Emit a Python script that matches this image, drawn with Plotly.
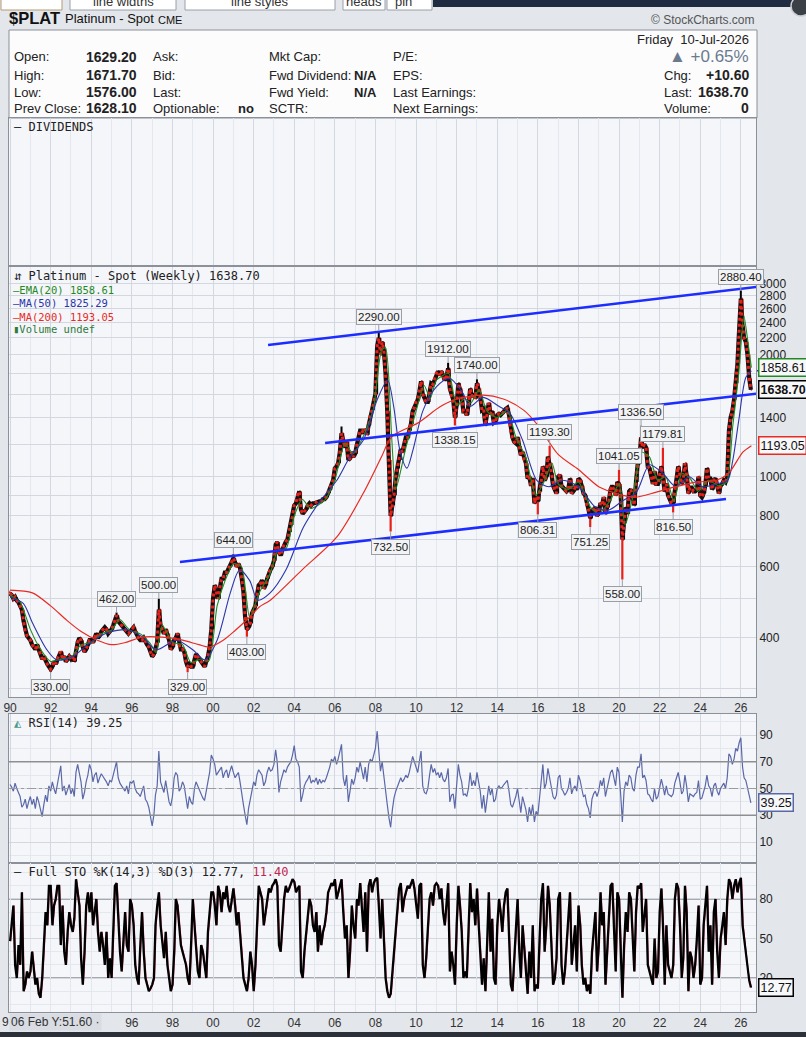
import math
import pandas as pd
import plotly.graph_objects as go

W, H = 806, 1037


def px(x):
    return x / W


def py(y):
    return 1 - y / H


def yr(t):
    # decimal year -> timestamp
    return pd.Timestamp("1990-01-01") + pd.Timedelta(days=(t - 1990) * 365.25)


#### Data (monthly closes) ####
closes_90s = [
    515, 510, 500, 505, 495, 490, 480, 470, 440, 415, 405, 400,   # 1990
    395, 385, 380, 375, 385, 375, 365, 355, 360, 350, 345, 340,   # 1991
    335, 340, 350, 345, 355, 365, 370, 355, 360, 350, 355, 360,   # 1992
    355, 360, 350, 375, 390, 400, 395, 380, 370, 375, 385, 395,   # 1993
    395, 390, 400, 410, 400, 405, 415, 420, 425, 420, 410, 415,   # 1994
    420, 430, 445, 455, 440, 435, 430, 425, 420, 415, 410, 415,   # 1995
    420, 425, 415, 405, 400, 395, 395, 400, 390, 385, 380, 370,   # 1996
    360, 365, 375, 390, 470, 430, 420, 410, 420, 410, 395, 375,   # 1997
    380, 395, 400, 410, 385, 375, 375, 370, 350, 340, 345, 340,   # 1998
    340, 355, 365, 360, 355, 350, 345, 340, 350, 360, 380, 420,   # 1999
]
closes_00s = [
    500, 540, 520, 500, 530, 560, 560, 580, 580, 590, 600, 615,   # 2000
    630, 615, 600, 610, 595, 560, 520, 450, 420, 425, 435, 460,   # 2001
    470, 480, 510, 540, 545, 555, 530, 540, 560, 580, 590, 600,   # 2002
    620, 680, 690, 650, 640, 660, 680, 690, 700, 730, 760, 800,   # 2003
    850, 860, 900, 920, 830, 810, 820, 830, 850, 860, 850, 860,   # 2004
    860, 865, 870, 870, 870, 880, 880, 890, 910, 930, 960, 980,   # 2005
    1050, 1060, 1080, 1150, 1280, 1220, 1180, 1220, 1100, 1110, 1150, 1120,   # 2006
    1140, 1200, 1240, 1300, 1300, 1280, 1310, 1270, 1340, 1420, 1460, 1530,   # 2007
    1600, 2100, 2200, 2000, 2150, 2050, 1800, 1450, 1100, 800, 850, 900,      # 2008
    1000, 1050, 1100, 1170, 1150, 1200, 1250, 1250, 1300, 1350, 1450, 1480,   # 2009
]
closes_10s = [
    1530, 1550, 1620, 1720, 1600, 1550, 1530, 1530, 1620, 1700, 1690, 1740,   # 2010
    1800, 1820, 1780, 1820, 1780, 1730, 1760, 1850, 1650, 1580, 1550, 1400,   # 2011
    1500, 1700, 1650, 1580, 1450, 1450, 1420, 1500, 1650, 1580, 1600, 1560,   # 2012
    1700, 1650, 1580, 1460, 1470, 1340, 1420, 1520, 1430, 1450, 1360, 1370,   # 2013
    1420, 1430, 1420, 1430, 1450, 1470, 1480, 1420, 1300, 1250, 1220, 1210,   # 2014
    1250, 1190, 1130, 1150, 1100, 1080, 990, 1000, 950, 990, 860, 890,        # 2015
    870, 920, 970, 1060, 980, 1000, 1120, 1080, 1020, 950, 920, 910,          # 2016
    1000, 1010, 950, 940, 930, 920, 930, 990, 910, 920, 940, 930,             # 2017
    990, 980, 950, 910, 900, 850, 830, 790, 820, 830, 840, 800,               # 2018
    820, 860, 850, 890, 810, 840, 870, 930, 950, 930, 900, 970,               # 2019
]
closes_20s = [
    960, 900, 700, 770, 840, 810, 920, 930, 880, 850, 970, 1070,              # 2020
    1100, 1250, 1180, 1200, 1180, 1060, 1050, 1000, 960, 1030, 960, 960,      # 2021
    1010, 1060, 1000, 920, 960, 900, 880, 860, 860, 930, 1000, 1060,          # 2022
    1010, 960, 980, 1080, 1010, 910, 940, 940, 920, 920, 930, 1000,           # 2023
    900, 890, 910, 950, 1050, 990, 990, 930, 980, 990, 950, 910,              # 2024
    950, 960, 980, 970, 1000, 1300, 1400, 1450, 1550, 1700, 1900, 2300,       # 2025
    2750, 2350, 2200, 2150, 2000, 1750, 1638.70,                              # 2026
]
first_open = 520

# labelled extremes (month, value, H=high / L=low)
spike_dates = ["1992-01", "1995-04", "1997-05", "1998-10", "2001-01", "2001-09",
               "2006-05", "2008-03", "2008-10", "2011-08", "2011-12", "2013-01",
               "2016-01", "2016-08", "2018-08", "2020-01", "2020-03", "2021-02",
               "2022-03", "2022-09", "2026-01"]
spike_values = [330.00, 462.00, 500.00, 329.00, 644.00, 403.00,
                1330.00, 2290.00, 732.50, 1912.00, 1338.15, 1740.00,
                806.31, 1193.30, 751.25, 1041.05, 558.00, 1336.50,
                1179.81, 816.50, 2880.40]
spike_side = ["L", "H", "H", "L", "H", "L",
              "H", "H", "L", "H", "L", "H",
              "L", "H", "L", "H", "L", "H",
              "H", "L", "H"]
spike_labelled = [True, True, True, True, True, True,
                  False, True, True, True, True, True,
                  True, True, True, True, True, True,
                  True, True, True]

# overlays (decimal year, value)
ema_t = [1990.0, 1990.5, 1991.0, 1991.5, 1992.0, 1992.5, 1993.0, 1993.5, 1994.0, 1994.5,
         1995.0, 1995.4, 1995.9, 1996.4, 1996.9, 1997.2, 1997.5, 1998.0, 1998.5, 1998.9,
         1999.4, 1999.8, 2000.2, 2000.6, 2001.0, 2001.4, 2001.8, 2002.3, 2002.8, 2003.2,
         2003.6, 2004.0, 2004.4, 2004.8, 2005.5, 2006.0, 2006.5, 2006.9, 2007.5, 2007.9,
         2008.3, 2008.5, 2008.8, 2009.0, 2009.5, 2010.0, 2010.4, 2010.7, 2011.0, 2011.6,
         2012.0, 2012.4, 2012.7, 2013.1, 2013.5, 2014.0, 2014.5, 2014.9, 2015.4, 2015.9,
         2016.3, 2016.7, 2017.0, 2017.5, 2018.0, 2018.6, 2019.0, 2019.6, 2020.0, 2020.3,
         2020.7, 2021.1, 2021.5, 2021.9, 2022.3, 2022.7, 2023.1, 2023.5, 2023.9, 2024.4,
         2024.9, 2025.3, 2025.6, 2025.9, 2026.15, 2026.35, 2026.52]
ema_v = [510, 490, 420, 375, 350, 355, 358, 385, 390, 410,
         418, 445, 418, 410, 388, 368, 430, 390, 385, 348,
         355, 352, 480, 555, 610, 600, 450, 520, 575, 660,
         665, 800, 880, 835, 875, 980, 1210, 1140, 1290, 1470,
         2050, 2080, 1250, 930, 1180, 1450, 1680, 1560, 1730, 1800,
         1500, 1560, 1520, 1640, 1450, 1400, 1460, 1260, 1120, 900,
         970, 1080, 960, 930, 970, 840, 810, 880, 960, 760,
         900, 1150, 1120, 980, 1000, 870, 1020, 990, 920, 980,
         950, 970, 1330, 1800, 2500, 2150, 1858.61]

ma50_t = [1990.0, 1990.65, 1991.1, 1991.8, 1992.3, 1993.1, 1993.9, 1994.8, 1995.75, 1996.5,
          1997.2, 1998.2, 1999.0, 1999.6, 2000.2, 2000.85, 2001.3, 2001.8, 2002.2, 2002.8,
          2003.6, 2004.45, 2005.3, 2006.1, 2006.75, 2007.4, 2008.1, 2008.6, 2008.9, 2009.2,
          2009.55, 2009.85, 2010.35, 2011.0, 2011.65, 2012.3, 2012.65, 2013.3, 2014.1, 2014.6,
          2015.25, 2015.95, 2016.55, 2017.2, 2018.0, 2018.85, 2019.5, 2020.2, 2020.85, 2021.5,
          2022.15, 2022.8, 2023.45, 2024.1, 2024.8, 2025.35, 2025.6, 2025.9, 2026.25, 2026.52]
ma50_v = [505, 487, 436, 375, 353, 360, 388, 412, 419, 403,
          374, 395, 374, 353, 395, 517, 588, 555, 496, 516,
          590, 750, 874, 980, 1120, 1230, 1555, 1730, 1490, 1165,
          1050, 1165, 1460, 1666, 1750, 1610, 1490, 1570, 1490, 1440,
          1230, 980, 945, 980, 945, 840, 828, 874, 915, 1070,
          1020, 945, 1000, 945, 960, 980, 1095, 1380, 1760, 1825.29]

ma200_t = [1990.0, 1991.1, 1992.0, 1992.8, 1993.5, 1994.3, 1995.0, 1995.7, 1996.5, 1997.5,
           1998.5, 1999.3, 1999.8, 2000.5, 2001.1, 2001.8, 2002.3, 2002.8, 2004.4, 2006.1,
           2007.4, 2008.3, 2008.8, 2010.1, 2011.2, 2012.0, 2013.3, 2014.3, 2015.3, 2016.0,
           2017.0, 2018.0, 2019.0, 2019.7, 2020.2, 2020.8, 2021.8, 2022.8, 2023.8, 2024.8,
           2025.4, 2026.1, 2026.52]
ma200_v = [525, 517, 480, 442, 415, 395, 385, 390, 402, 402,
           395, 385, 380, 395, 418, 450, 478, 495, 590, 710,
           910, 1120, 1255, 1358, 1490, 1555, 1590, 1555, 1460, 1340,
           1135, 1042, 945, 915, 900, 890, 915, 945, 970, 980,
           1020, 1150, 1193.05]

# blue trendlines (start, end)
trend_t = [(2002.71, 2029.21), (2005.52, 2029.21), (1998.37, 2025.27)]
trend_v = [(2114, 3040), (1211, 1656), (616, 881)]

rsi_90s = [
    53, 51, 48, 54, 50, 47, 44, 36, 38, 42, 35, 40,
    44, 38, 42, 35, 44, 40, 34, 29, 38, 45, 40, 52,
    48, 55, 50, 46, 53, 60, 67, 48, 52, 45, 50, 53,
    46, 50, 44, 62, 68, 60, 55, 42, 47, 55, 60, 68,
    64, 55, 60, 62, 54, 58, 61, 59, 57, 55, 52, 56,
    55, 60, 66, 70, 58, 54, 52, 50, 48, 52, 46, 55,
    54, 56, 50, 47, 46, 44, 48, 52, 42, 40, 36, 30,
    22, 30, 45, 52, 78, 55, 50, 47, 56, 48, 40, 37,
    44, 58, 62, 60, 48, 50, 55, 52, 42, 35, 44, 40,
    38, 50, 55, 52, 48, 46, 43, 41, 50, 55, 62, 75,
]
rsi_00s = [
    72, 68, 60, 62, 64, 66, 58, 62, 64, 58, 63, 67,
    62, 58, 60, 62, 55, 45, 38, 30, 23, 35, 42, 48,
    55, 52, 60, 64, 62, 60, 52, 55, 62, 66, 63, 64,
    68, 79, 70, 47, 55, 60, 64, 62, 66, 68, 70, 75,
    82, 72, 70, 66, 40, 45, 52, 55, 57, 60, 54, 56,
    55, 58, 53, 57, 54, 56, 55, 58, 62, 66, 72, 70,
    74, 68, 72, 78, 83, 58, 52, 60, 40, 48, 57, 53,
    58, 66, 62, 70, 64, 57, 66, 55, 68, 72, 70, 75,
    80, 93, 78, 63, 70, 58, 48, 38, 28, 21, 34, 43,
    48, 52, 55, 58, 55, 57, 60, 58, 62, 68, 74, 70,
]
rsi_10s = [
    66, 62, 70, 78, 52, 47, 46, 50, 60, 68, 62, 65,
    60, 62, 58, 62, 57, 55, 58, 65, 40, 45, 46, 35,
    52, 68, 60, 55, 45, 46, 44, 50, 62, 52, 56, 52,
    62, 55, 48, 35, 45, 32, 44, 52, 45, 50, 40, 42,
    50, 52, 50, 51, 53, 55, 56, 48, 38, 36, 40, 44,
    50, 40, 32, 44, 38, 34, 25, 36, 30, 38, 25, 33,
    30, 45, 55, 68, 50, 54, 65, 58, 52, 44, 42, 45,
    58, 60, 50, 48, 45, 47, 50, 58, 46, 50, 52, 48,
    60, 56, 50, 44, 45, 38, 35, 28, 42, 46, 48, 44,
    48, 56, 52, 58, 44, 50, 56, 62, 64, 58, 52, 66,
]
rsi_20s = [
    62, 45, 25, 48, 55, 52, 60, 58, 50, 48, 60, 66,
    66, 76, 58, 60, 56, 46, 45, 42, 40, 50, 42, 44,
    52, 57, 52, 45, 52, 46, 45, 44, 46, 54, 58, 62,
    55, 46, 48, 60, 52, 40, 46, 45, 44, 46, 47, 56,
    42, 43, 48, 52, 60, 52, 50, 44, 52, 54, 48, 45,
    50, 52, 54, 50, 58, 76, 74, 68, 72, 80, 78, 84,
    88, 66, 58, 56, 50, 44, 39.25,
]

sto_90s = [
    48, 65, 75, 30, 20, 45, 30, 85, 10, 15, 25, 20,
    25, 40, 30, 15, 20, 8, 5, 20, 45, 70, 60, 90,
    90, 60, 75, 80, 90, 90, 45, 75, 40, 30, 55, 70,
    60, 55, 65, 95, 85, 75, 35, 15, 40, 75, 85, 70,
    85, 60, 70, 80, 55, 40, 55, 45, 30, 55, 20, 35,
    20, 55, 90, 92, 60, 40, 25, 50, 70, 45, 40, 80,
    75, 60, 30, 20, 15, 45, 70, 40, 20, 15, 10, 12,
    15, 20, 60, 75, 85, 60, 45, 35, 55, 30, 20, 10,
    15, 40, 80, 75, 60, 45, 40, 35, 30, 20, 15, 45,
    80, 60, 45, 25, 20, 45, 40, 30, 20, 55, 70, 85,
]
sto_00s = [
    85, 75, 60, 90, 85, 70, 85, 80, 90, 75, 70, 80,
    88, 75, 60, 70, 55, 40, 20, 15, 10, 20, 40, 30,
    10, 30, 60, 90, 85, 80, 60, 70, 80, 88, 85, 90,
    92, 95, 90, 45, 40, 60, 80, 90, 85, 88, 92, 95,
    93, 85, 88, 90, 25, 20, 40, 55, 70, 80, 75, 60,
    55, 70, 40, 60, 45, 55, 60, 70, 85, 88, 92, 90,
    95, 80, 85, 90, 95, 70, 50, 60, 20, 40, 75, 60,
    50, 80, 75, 92, 70, 55, 85, 40, 90, 95, 85, 92,
    95, 96, 75, 50, 80, 55, 20, 10, 5, 8, 25, 40,
    60, 75, 88, 92, 70, 80, 85, 90, 88, 92, 95, 88,
]
sto_10s = [
    75, 65, 90, 92, 30, 20, 35, 60, 80, 85, 75, 90,
    92, 90, 80, 88, 70, 60, 75, 92, 25, 40, 30, 15,
    60, 90, 75, 55, 20, 25, 20, 55, 92, 70, 80, 60,
    88, 60, 40, 15, 35, 10, 45, 85, 40, 65, 20, 15,
    60, 80, 70, 55, 75, 85, 88, 55, 15, 10, 35, 50,
    80, 40, 20, 60, 40, 20, 8, 40, 20, 60, 10, 15,
    12, 50, 80, 92, 40, 60, 90, 75, 40, 15, 20, 35,
    80, 85, 30, 15, 25, 50, 65, 85, 30, 45, 60, 25,
    75, 60, 30, 15, 20, 10, 15, 8, 40, 55, 70, 25,
    45, 85, 60, 70, 15, 40, 70, 90, 92, 60, 25, 85,
]
sto_20s = [
    80, 40, 5, 45, 70, 55, 85, 80, 45, 25, 70, 90,
    88, 92, 55, 70, 80, 30, 25, 20, 15, 50, 20, 25,
    70, 88, 60, 15, 60, 30, 25, 20, 30, 80, 92, 88,
    60, 20, 35, 90, 70, 10, 40, 35, 20, 30, 50, 75,
    15, 20, 60, 75, 90, 40, 60, 15, 70, 80, 40, 20,
    50, 60, 70, 45, 80, 95, 92, 80, 90, 95, 85, 92,
    96, 60, 50, 35, 25, 18, 12.77,
]

#### Data preparation ####
closes = closes_90s + closes_00s + closes_10s + closes_20s
rsi = rsi_90s + rsi_00s + rsi_10s + rsi_20s
sto_k = sto_90s + sto_00s + sto_10s + sto_20s
months = pd.date_range("1990-01-01", periods=len(closes), freq="MS")

opens = [first_open] + closes[:-1]
highs = [max(o, c) for o, c in zip(opens, closes)]
lows = [min(o, c) for o, c in zip(opens, closes)]
for d, v, s in zip(spike_dates, spike_values, spike_side):
    i = months.get_loc(pd.Timestamp(d + "-01"))
    if s == "H":
        highs[i] = max(highs[i], v)
    else:
        lows[i] = min(lows[i], v)

#### Colours / fonts ####
PAGE = "#e3e6eb"
PLOT = "#f5f6fa"
BORDER = "#8b9099"
GRID = "#d3d7df"
GRID_MINOR = "#e4e7ee"
SANS = "Liberation Sans, Arial, sans-serif"
MONO = "DejaVu Sans Mono, monospace"
C_EMA = "#1f8a1f"
C_MA50 = "#2b35a8"
C_MA200 = "#e82a22"
C_RSI = "#5a68a8"
C_TREND = "#1d2dff"
C_DOWN = "#e8201a"

fig = go.Figure()

# dividends panel (empty)
fig.add_trace(go.Scatter(x=[months[0]], y=[0.5], mode="markers", marker=dict(opacity=0),
                         xaxis="x4", yaxis="y4", hoverinfo="skip", showlegend=False))

# price: heavy close line (black with red speckle) under the black/red bars gives the dense weekly-bar band
fig.add_trace(go.Scatter(x=months, y=closes, mode="lines", line=dict(color="#111", width=4.2),
                         xaxis="x", yaxis="y", hoverinfo="skip", showlegend=False))
fig.add_trace(go.Scatter(x=months, y=closes, mode="lines", line=dict(color=C_DOWN, width=3, dash="3px,3px"),
                         xaxis="x", yaxis="y", hoverinfo="skip", showlegend=False))
fig.add_trace(go.Ohlc(x=months, open=opens, high=highs, low=lows, close=closes,
                      increasing=dict(line=dict(color="black", width=2)),
                      decreasing=dict(line=dict(color=C_DOWN, width=2.2)),
                      tickwidth=0.45, xaxis="x", yaxis="y", showlegend=False))

fig.add_trace(go.Scatter(x=[yr(t) for t in ema_t], y=ema_v, mode="lines", line=dict(color=C_EMA, width=1.1, shape="spline", smoothing=0.6),
                         xaxis="x", yaxis="y", showlegend=False))
fig.add_trace(go.Scatter(x=[yr(t) for t in ma50_t], y=ma50_v, mode="lines", line=dict(color=C_MA50, width=1.1, shape="spline", smoothing=0.8),
                         xaxis="x", yaxis="y", showlegend=False))
fig.add_trace(go.Scatter(x=[yr(t) for t in ma200_t], y=ma200_v, mode="lines", line=dict(color=C_MA200, width=1.2, shape="spline", smoothing=0.8),
                         xaxis="x", yaxis="y", showlegend=False))

for (t0, t1), (v0, v1) in zip(trend_t, trend_v):
    fig.add_trace(go.Scatter(x=[yr(t0), yr(t1)], y=[v0, v1], mode="lines", line=dict(color=C_TREND, width=2.6),
                             xaxis="x", yaxis="y", showlegend=False))

# RSI
fig.add_trace(go.Scatter(x=months, y=rsi, mode="lines", line=dict(color=C_RSI, width=1.2),
                         xaxis="x2", yaxis="y2", showlegend=False))

# Full STO: %D drawn as the lagged %K, under the %K line
fig.add_trace(go.Scatter(x=months + pd.Timedelta(days=12), y=sto_k, mode="lines", line=dict(color="#b3204d", width=1.2),
                         xaxis="x3", yaxis="y3", showlegend=False))
fig.add_trace(go.Scatter(x=months, y=sto_k, mode="lines", line=dict(color="black", width=2.2),
                         xaxis="x3", yaxis="y3", showlegend=False))

#### Axes ####
x_dom = [px(9), px(756)]
x_range = ["1989-12-13", "2026-10-01"]
xcommon = dict(type="date", domain=x_dom, range=x_range, tick0="1990-01-01", dtick="M24", tickformat="%y",
               showgrid=True, gridcolor=GRID, gridwidth=1,
               minor=dict(dtick="M12", showgrid=True, gridcolor=GRID_MINOR),
               showline=True, linecolor=BORDER, linewidth=1, mirror=True, ticks="",
               tickfont=dict(family=SANS, size=12, color="#333"), automargin=False,
               rangeslider=dict(visible=False), fixedrange=True)

# bottom axis: the first labels sit under the crosshair read-out
bottom_years = list(range(1996, 2027, 2))
bottom_ticks = [pd.Timestamp("%d-01-01" % y) for y in bottom_years]
bottom_text = ["%02d" % (y % 100) for y in bottom_years]

price_ticks = [300, 400, 500, 600, 700, 800, 900, 1000, 1200, 1400, 1600, 1800, 2000, 2200, 2400, 2600, 2800, 3000]
price_text = ["", "400", "", "600", "", "800", "", "1000", "", "1400", "", "", "2000", "2200", "2400", "2600", "2800", "3000"]

ycommon = dict(side="right", showline=True, linecolor=BORDER, linewidth=1, mirror=True, ticks="",
               tickfont=dict(family=SANS, size=12, color="#222"), automargin=False, zeroline=False,
               fixedrange=True)

fig.update_layout(
    width=W, height=H, autosize=False,
    margin=dict(l=0, r=0, t=0, b=0),
    paper_bgcolor=PAGE, plot_bgcolor=PLOT,
    showlegend=False,
    xaxis=dict(xcommon, anchor="y"),
    xaxis2=dict(xcommon, anchor="y2", matches="x", showticklabels=False),
    xaxis3=dict(xcommon, anchor="y3", matches="x", tickmode="array",
                tickvals=bottom_ticks, ticktext=bottom_text),
    xaxis4=dict(xcommon, anchor="y4", matches="x", showticklabels=False),
    yaxis=dict(ycommon, domain=[py(697), py(267)], anchor="x", type="log",
               range=[math.log10(286), math.log10(3293)],
               tickmode="array", tickvals=price_ticks, ticktext=price_text,
               showgrid=True, gridcolor=GRID),
    yaxis2=dict(ycommon, domain=[py(863), py(714)], anchor="x2", range=[-5.7, 105.7],
                tickmode="array", tickvals=[10, 30, 50, 70, 90],
                showgrid=True, gridcolor=GRID,
                minor=dict(tickmode="array", tickvals=[0, 20, 40, 60, 80, 100], showgrid=True, gridcolor=GRID_MINOR)),
    yaxis3=dict(ycommon, domain=[py(1012), py(863)], anchor="x3", range=[-5.8, 107.3],
                tickmode="array", tickvals=[20, 50, 80],
                showgrid=True, gridcolor=GRID,
                minor=dict(tickmode="array", tickvals=[0, 10, 30, 40, 60, 70, 90, 100], showgrid=True, gridcolor=GRID_MINOR)),
    yaxis4=dict(ycommon, domain=[py(265), py(118)], anchor="x4", range=[0, 1],
                showticklabels=False, showgrid=False),
)

#### Shapes ####
shapes = []
# top tab strip
shapes.append(dict(type="rect", xref="paper", yref="paper", x0=px(433), x1=1, y0=py(7), y1=1,
                   fillcolor="#1f2b40", line=dict(width=0), layer="above"))
for x0, x1, edge in [(1, 62, "#b59b74"), (70, 176, "#9aa0aa"), (185, 335, "#9aa0aa"), (343, 385, "#9aa0aa"), (387, 432, "#9aa0aa")]:
    shapes.append(dict(type="rect", xref="paper", yref="paper", x0=px(x0), x1=px(x1), y0=py(10), y1=py(-2),
                       fillcolor="white", line=dict(color=edge, width=1), layer="above"))
shapes.append(dict(type="circle", xref="paper", yref="paper", x0=px(791), x1=px(811), y0=py(16), y1=py(-4),
                   fillcolor="#3b3f46", line=dict(color="#c9ccd2", width=1.5), layer="above"))
# info box
shapes.append(dict(type="rect", xref="paper", yref="paper", x0=px(9), x1=px(757), y0=py(118), y1=py(30),
                   fillcolor="#fcfcfd", line=dict(color=BORDER, width=1), layer="below"))
# dark strip at the very bottom
shapes.append(dict(type="rect", xref="paper", yref="paper", x0=0, x1=1, y0=0, y1=py(1032),
                   fillcolor="#2c3038", line=dict(width=0), layer="above"))
# MA(50) tag peeking out from under the EMA tag
shapes.append(dict(type="line", xref="paper", yref="y", x0=px(757), x1=1, y0=1825.29, y1=1825.29,
                   line=dict(color=C_MA50, width=1.5), layer="above"))
# RSI levels
for lvl in (30, 70):
    shapes.append(dict(type="line", xref="x2 domain", yref="y2", x0=0, x1=1, y0=lvl, y1=lvl,
                       line=dict(color="#8d8f94", width=1.6)))
shapes.append(dict(type="line", xref="x2 domain", yref="y2", x0=0, x1=1, y0=50, y1=50,
                   line=dict(color="#9a9ca2", width=1.2, dash="dashdot")))
# STO levels
for lvl in (20, 80):
    shapes.append(dict(type="line", xref="x3 domain", yref="y3", x0=0, x1=1, y0=lvl, y1=lvl,
                       line=dict(color="#8d8f94", width=1.6), layer="below"))
shapes.append(dict(type="line", xref="x3 domain", yref="y3", x0=0, x1=1, y0=50, y1=50,
                   line=dict(color="#9a9ca2", width=1.2, dash="dashdot"), layer="below"))
fig.update_layout(shapes=shapes)

#### Annotations ####
ann = []


def text(x, y, s, size=13, color="#222", family=SANS, anchor="left", bg=None):
    ann.append(dict(xref="paper", yref="paper", x=px(x), y=py(y), text=s, showarrow=False,
                    xanchor=anchor, yanchor="middle", font=dict(family=family, size=size, color=color),
                    bgcolor=bg))


# tab captions (cut at the top edge)
for cx, s in [(123, "line widths"), (260, "line styles"), (364, "heads"), (404, "pin")]:
    text(cx, 2, s, size=13, color="#333", anchor="center")

# title line
text(7, 18, "<b>$PLAT</b>", size=16.5, color="#111")
text(63, 19, "Platinum - Spot", size=13, color="#111")
text(156, 20, "CME", size=11, color="#111")
text(757, 20, "© StockCharts.com", size=12, color="#555", anchor="right")

# info box rows
rows = [57, 75, 92, 108]
for y, lab, val in zip(rows, ["Open:", "High:", "Low:", "Prev Close:"], ["1629.20", "1671.70", "1576.00", "1628.10"]):
    text(12, y, lab, size=13)
    text(139, y, "<b>" + val + "</b>", size=14, anchor="right")
for y, lab in zip(rows, ["Ask:", "Bid:", "Last:", "Optionable:"]):
    text(151, y, lab, size=13)
text(256, 108, "<b>no</b>", size=13, anchor="right")
for y, lab in zip(rows, ["Mkt Cap:", "Fwd Dividend:", "Fwd Yield:", "SCTR:"]):
    text(267, y, lab, size=13)
text(379, 75, "<b>N/A</b>", size=13, anchor="right")
text(379, 92, "<b>N/A</b>", size=13, anchor="right")
for y, lab in zip(rows, ["P/E:", "EPS:", "Last Earnings:", "Next Earnings:"]):
    text(391, y, lab, size=13)
text(751, 39, "Friday  10-Jul-2026", size=13, anchor="right")
text(751, 57, "▲ +0.65%", size=17, color="#6b7a8f", anchor="right")
for y, lab, val in zip(rows[1:], ["Chg:", "Last:", "Volume:"], ["+10.60", "1638.70", "0"]):
    text(662, y, lab, size=13)
    text(751, y, "<b>" + val + "</b>", size=14, anchor="right")

# panel captions
text(12, 127, "— DIVIDENDS", size=12, color="#222", family=MONO)
text(12, 276, "⇵ Platinum - Spot (Weekly) 1638.70", size=12, color="#222", family=MONO)
text(11, 290, "<span style='color:%s'>—EMA(20) 1858.61</span>" % C_EMA, size=10.5, family=MONO)
text(11, 303, "<span style='color:%s'>—MA(50) 1825.29</span>" % C_MA50, size=10.5, family=MONO)
text(11, 317, "<span style='color:%s'>—MA(200) 1193.05</span>" % C_MA200, size=10.5, family=MONO)
text(11, 329, "<span style='color:#2f7a3a'>▮Volume undef</span>", size=10.5, family=MONO)
text(12, 723, "<span style='color:#4a9a8a'>◭</span> RSI(14) 39.25", size=12, color="#222", family=MONO)
text(12, 872, "— Full STO %K(14,3) %D(3) 12.77, <span style='color:#c0284f'>11.40</span>",
     size=12, color="#222", family=MONO)

# crosshair read-out in the lower left corner
text(0, 1022, "9", size=12, color="#333")
text(9, 1022, "06 Feb Y:51.60 ·", size=12, color="#333", bg="#d9dce2")

# price labels at the extremes
for d, v, s, show in zip(spike_dates, spike_values, spike_side, spike_labelled):
    if not show:
        continue
    ann.append(dict(x=pd.Timestamp(d + "-01"), y=math.log10(v), xref="x", yref="y",
                    text="%.2f" % v, showarrow=True, arrowhead=0, arrowwidth=1, arrowcolor="#9a9ea6",
                    ax=0, ay=-14 if s == "H" else 15, bgcolor="#f2f3f5", bordercolor="#9a9ea6",
                    borderwidth=1, borderpad=1, font=dict(family=SANS, size=11.5, color="#222")))


# value tags on the right axis
def tag(axis, yval, s, edge, bold=False, log=False):
    ann.append(dict(xref="paper", yref=axis, x=px(758), y=math.log10(yval) if log else yval,
                    text=("<b>%s</b>" % s) if bold else s, showarrow=False, xanchor="left", yanchor="middle",
                    bgcolor="#f7f8fa", bordercolor=edge, borderwidth=1.5, borderpad=1,
                    font=dict(family=SANS, size=12.5, color="#111")))


tag("y", 1858.61, "1858.61", C_EMA, log=True)
tag("y", 1638.70, "1638.70", "black", bold=True, log=True)
tag("y", 1193.05, "1193.05", C_MA200, log=True)
tag("y2", 39.25, "39.25", C_RSI)
tag("y3", 12.77, "12.77", "black")

fig.update_layout(annotations=ann)

# the page is photographed from its top-left corner: drop the default body margin
fig.write_html("out.html", config={"displayModeBar": False},
               post_script="document.body.style.margin='0';document.body.style.overflow='hidden';")
